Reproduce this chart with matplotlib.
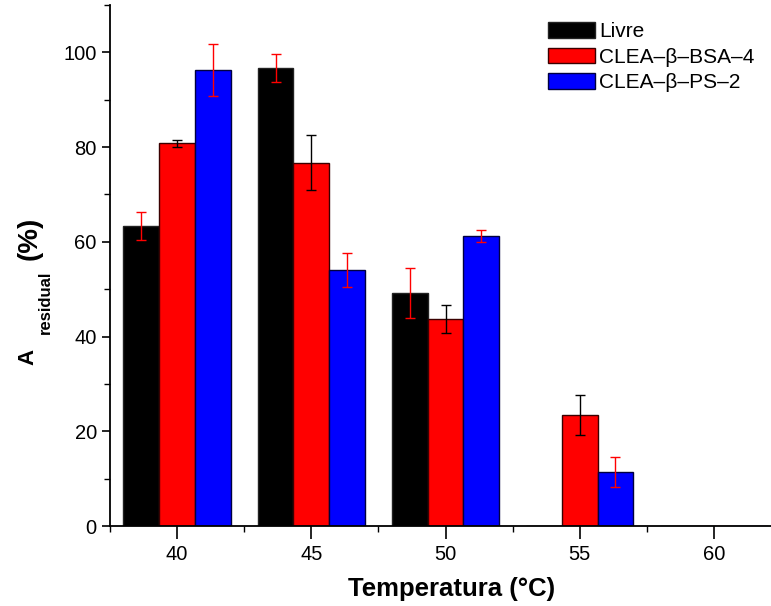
import numpy as np
import matplotlib
matplotlib.use("Agg")
import matplotlib.pyplot as plt
from matplotlib.ticker import MultipleLocator

plt.rcParams['font.family'] = ['Liberation Sans', 'DejaVu Sans']

#temperatures
temps = [40, 45, 50, 55, 60]
labels = ["Livre", "CLEA\u2013\u03b2\u2013BSA\u20134", "CLEA\u2013\u03b2\u2013PS\u20132"]
#residual activity (%)
livre = [63.3, 96.7, 49.2, 0, 0]
bsa = [80.8, 76.7, 43.7, 23.4, 0]
ps = [96.2, 54.1, 61.2, 11.4, 0]
#errors
livre_err = [3.0, 3.0, 5.3, 0, 0]
bsa_err = [0.7, 5.8, 3.0, 4.2, 0]
ps_err = [5.5, 3.6, 1.2, 3.1, 0]

series = [livre, bsa, ps]
errors = [livre_err, bsa_err, ps_err]
colors = ["black", "red", "blue"]
edges = ["#222222", "#3a0000", "#000040"]
err_colors = ["red", "black", "red"]

W, H = 771, 606
fig = plt.figure(figsize=(W / 100, H / 100), dpi=100)
#axes run a little past the right edge of the picture
ax = fig.add_axes([110 / W, 1 - 526 / H, 671 / W, 521 / H])

w = 1.333
x = np.array(temps, dtype=float)
for i in range(3):
    pos = x + (i - 1) * w
    vals = np.array(series[i])
    ax.bar(pos, vals, width=w, color=colors[i], edgecolor=edges[i],
           linewidth=1.0, label=labels[i], zorder=2)
    mask = vals > 0
    ax.errorbar(pos[mask], vals[mask], yerr=np.array(errors[i])[mask], fmt="none",
                ecolor=err_colors[i], elinewidth=1.0, capsize=3.5, capthick=1.0, zorder=3)

ax.set_xlim(37.5, 62.5)
ax.set_ylim(0, 110)
ax.xaxis.set_major_locator(MultipleLocator(5))
ax.xaxis.set_minor_locator(MultipleLocator(2.5))
ax.yaxis.set_major_locator(MultipleLocator(20))
ax.yaxis.set_minor_locator(MultipleLocator(10))
ax.spines['top'].set_visible(False)
ax.spines['right'].set_visible(False)
ax.spines['left'].set_linewidth(1.3)
ax.spines['bottom'].set_linewidth(1.3)
ax.tick_params(which='major', direction='out', length=6, width=1.2, labelsize=14.5)
ax.tick_params(axis='x', which='major', length=9, pad=5)
ax.tick_params(which='minor', direction='out', length=4, width=1.0)

#x label
fig.text(452 / W, 1 - 596 / H, "Temperatura (\u00b0C)", fontsize=18.5, fontweight='bold',
         ha='center', va='baseline')
#y label built from pieces: A, subscript, (%)
fig.text(33 / W, 1 - 365 / H, "A", fontsize=16, fontweight='bold', rotation=90,
         rotation_mode='anchor', ha='left', va='baseline')
fig.text(50 / W, 1 - 334 / H, "residual", fontsize=12, fontweight='bold', rotation=90,
         rotation_mode='anchor', ha='left', va='baseline')
fig.text(37 / W, 1 - 260 / H, "(%)", fontsize=20, fontweight='bold', rotation=90,
         rotation_mode='anchor', ha='left', va='baseline')

ax.legend(loc='upper left', bbox_to_anchor=(548 / W, 1 - 22 / H), bbox_transform=fig.transFigure,
          frameon=False, fontsize=15, handlelength=2.26, handleheight=0.77,
          handletextpad=0.2, labelspacing=0.32, borderpad=0, borderaxespad=0)

fig.savefig("out.png", dpi=100)
